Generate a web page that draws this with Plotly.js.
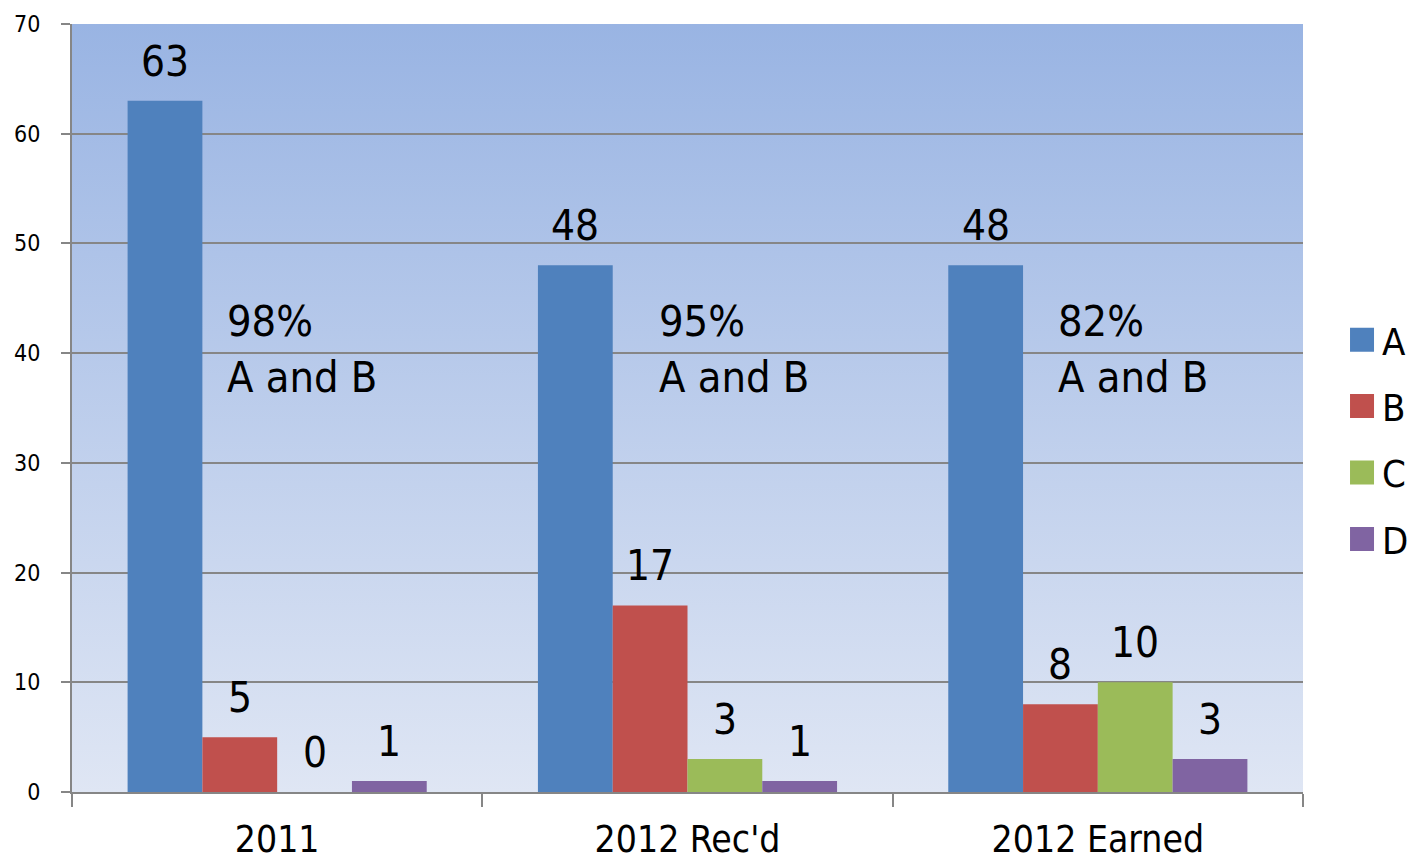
<!DOCTYPE html>
<html>
<head>
<meta charset="utf-8">
<script src="https://cdn.plot.ly/plotly-3.0.1.min.js"></script>
<style>
html,body{margin:0;padding:0;background:#fff;}
#chart{width:1414px;height:865px;}
</style>
</head>
<body>
<div id="chart"></div>
<script>
// ---- data ----
const categories = ["2011", "2012 Rec'd", "2012 Earned"];
const seriesNames = ["A", "B", "C", "D"];
const seriesA = [63, 48, 48];
const seriesB = [5, 17, 8];
const seriesC = [0, 3, 10];
const seriesD = [1, 1, 3];
const noteTexts = ["98%<br>A and B", "95%<br>A and B", "82%<br>A and B"];

// ---- styles / positions ----
const colors = ["#4F81BD", "#C0504D", "#9BBB59", "#8064A2"];
const FONT = "'DejaVu Sans Condensed', 'Liberation Sans Narrow', 'Liberation Sans', sans-serif";
const BARGAP = 0.271;
const noteXOffset = [-0.128, -0.075, -0.102];
const noteYValue = 40.4;
const gridGray = "#868686";

const allSeries = [seriesA, seriesB, seriesC, seriesD];

const traces = allSeries.map((vals, s) => ({
  type: "bar",
  name: seriesNames[s],
  x: categories,
  y: vals,
  legendgroup: seriesNames[s],
  marker: {color: colors[s], line: {width: 0}},
  hoverinfo: "x+y+name"
}));

const annotations = [];
const w = (1 - BARGAP) / allSeries.length;
allSeries.forEach((vals, s) => {
  vals.forEach((v, i) => {
    annotations.push({
      xref: "x", yref: "y",
      x: i + (s - (allSeries.length - 1) / 2) * w,
      y: v,
      text: String(v),
      showarrow: false,
      xanchor: "center", yanchor: "bottom",
      yshift: 13,
      font: {family: FONT, size: 42, color: "#000"}
    });
  });
});
noteTexts.forEach((t, i) => {
  annotations.push({
    xref: "x", yref: "y",
    x: i + noteXOffset[i],
    y: noteYValue,
    text: t,
    align: "left",
    showarrow: false,
    xanchor: "left", yanchor: "middle",
    font: {family: FONT, size: 43, color: "#000"}
  });
});

const gradSvg = '<svg xmlns="http://www.w3.org/2000/svg" width="100" height="100" preserveAspectRatio="none">' +
  '<defs><linearGradient id="g" x1="0" y1="0" x2="0" y2="1">' +
  '<stop offset="0" stop-color="#99B4E3"/><stop offset="1" stop-color="#DFE6F4"/>' +
  '</linearGradient></defs><rect width="100" height="100" fill="url(#g)"/></svg>';

const layout = {
  width: 1414, height: 865,
  autosize: false,
  margin: {l: 72, r: 111, t: 24, b: 73, autoexpand: false},
  paper_bgcolor: "#ffffff",
  plot_bgcolor: "rgba(0,0,0,0)",
  font: {family: FONT, color: "#000"},
  barmode: "group",
  bargap: BARGAP,
  bargroupgap: 0,
  showlegend: true,
  legend: {
    x: 1.0317, xanchor: "left",
    y: 0.459, yanchor: "middle",
    bgcolor: "rgba(0,0,0,0)",
    font: {family: FONT, size: 38, color: "#000"},
    tracegroupgap: 14,
    traceorder: "grouped"
  },
  xaxis: {
    type: "category",
    automargin: false,
    showline: true, linecolor: gridGray, linewidth: 2,
    showgrid: false,
    ticks: "outside", tickson: "boundaries", ticklen: 13, tickwidth: 2, tickcolor: gridGray,
    tickfont: {family: FONT, size: 37, color: "#000"},
    ticklabelstandoff: 14,
    fixedrange: true
  },
  yaxis: {
    range: [0, 70], dtick: 10, tick0: 0,
    automargin: false,
    showline: true, linecolor: gridGray, linewidth: 2,
    showgrid: true, gridcolor: gridGray, gridwidth: 2,
    zeroline: false,
    ticks: "outside", ticklen: 9, tickwidth: 2, tickcolor: gridGray,
    tickfont: {family: FONT, size: 23, color: "#000"},
    ticklabelstandoff: 16,
    fixedrange: true
  },
  images: [{
    source: "data:image/svg+xml;charset=utf-8," + encodeURIComponent(gradSvg),
    xref: "paper", yref: "paper",
    x: 0, y: 1, sizex: 1, sizey: 1,
    xanchor: "left", yanchor: "top",
    sizing: "stretch", layer: "below"
  }],
  annotations: annotations
};

const gd = document.getElementById("chart");
function enlargeLegendSymbols() {
  gd.querySelectorAll(".legend .legendpoints path").forEach(p => {
    p.setAttribute("transform", "translate(20,0) scale(2)");
  });
}
Plotly.newPlot(gd, traces, layout, {displayModeBar: false}).then(() => {
  enlargeLegendSymbols();
  gd.on("plotly_afterplot", enlargeLegendSymbols);
});
</script>
</body>
</html>
